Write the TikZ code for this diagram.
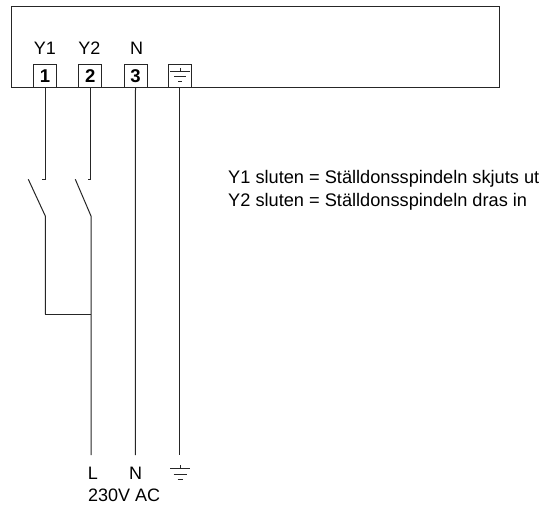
\documentclass[tikz,border=0pt]{standalone}
\usepackage{fontspec}
\setmainfont{Liberation Sans}
\tikzset{
  wire/.style={line width=1pt,black!85},
  term/.style={draw=black!85,line width=1pt,minimum width=23pt,minimum height=23pt,inner sep=0pt},
  lbl/.style={inner sep=0pt,anchor=base,font=\fontsize{18}{18}\selectfont},
  digit/.style={inner sep=0pt,anchor=base,font=\fontsize{18.5}{18}\selectfont\bfseries},
  note/.style={inner sep=0pt,anchor=base west,font=\fontsize{18.2}{18}\selectfont}
}
\begin{document}
\begin{tikzpicture}[x=1pt,y=-1pt]
\useasboundingbox (0,0) rectangle (544,505);
\coordinate (bl) at (11,87.7);
\coordinate (tr) at (499.3,6.7);
\draw[wire] (bl) rectangle (tr);
\node[term] (t1) at (45,76) {};
\node[term] (t2) at (90.3,76) {};
\node[term] (t3) at (135.5,76) {};
\node[term] (t4) at (180,76) {};
\node[digit] (d1) at (45,82.5) {1};
\node[digit] (d2) at (90.3,82.5) {2};
\node[digit] (d3) at (135.5,82.5) {3};
\node[lbl] (y1) at (45,55) {Y1};
\node[lbl] (y2) at (89.5,55) {Y2};
\node[lbl] (yn) at (136.5,55) {N};
% terminal earth symbol
\coordinate (e1a) at (170,71.7); \coordinate (e1b) at (190,71.7);
\coordinate (e2a) at (174,77); \coordinate (e2b) at (186,77);
\coordinate (e3a) at (178,81.7); \coordinate (e3b) at (182,81.7);
\coordinate (e0) at (180,68);
\draw[wire] (e0) -- (e1a -| e0);
\draw[wire] (e1a) -- (e1b);
\draw[wire] (e2a) -- (e2b);
\draw[wire] (e3a) -- (e3b);
% wires
\coordinate (s1a) at (45,179.3); \coordinate (s1c) at (41.7,179.3);
\coordinate (s1d) at (28.3,179.3); \coordinate (s1e) at (45.3,216);
\coordinate (j1) at (45.3,314.3);
\draw[wire] (t1.south) -- (s1a) -- (s1c);
\draw[wire] (s1d) -- (s1e) -- (j1);
\coordinate (s2a) at (90,179.3); \coordinate (s2c) at (88,179.3);
\coordinate (s2d) at (75.3,179.3); \coordinate (s2e) at (91,216);
\coordinate (j2) at (91,314.3);
\coordinate (L) at (91,455);
\draw[wire] (t2.south) ++(-0.3,0) -- (s2a) -- (s2c);
\draw[wire] (s2d) -- (s2e) -- (L);
\draw[wire] (j1) -- (j2);
\coordinate (N) at (135.3,455);
\coordinate (PE) at (179.4,455);
\draw[wire] (t3.south) -- (N);
\draw[wire] (t4.south) ++(-0.6,0) -- (PE);
\node[lbl] (lL) at (93,479) {L};
\node[lbl] (lN) at (135.5,479) {N};
\node[lbl] (lV) at (124.2,501.7) {230V AC};
\coordinate (g1a) at (170,468); \coordinate (g1b) at (190,468);
\coordinate (g2a) at (173.5,474); \coordinate (g2b) at (186.5,474);
\coordinate (g3a) at (177.5,479); \coordinate (g3b) at (182.5,479);
\coordinate (g0) at (180,465);
\draw[wire] (g0) -- (g1a -| g0);
\draw[wire] (g1a) -- (g1b);
\draw[wire] (g2a) -- (g2b);
\draw[wire] (g3a) -- (g3b);
\node[note] (n1) at (228,184) {Y1 sluten = Ställdonsspindeln skjuts ut};
\node[note] (n2) at (228,206.5) {Y2 sluten = Ställdonsspindeln dras in};
\end{tikzpicture}
\end{document}
